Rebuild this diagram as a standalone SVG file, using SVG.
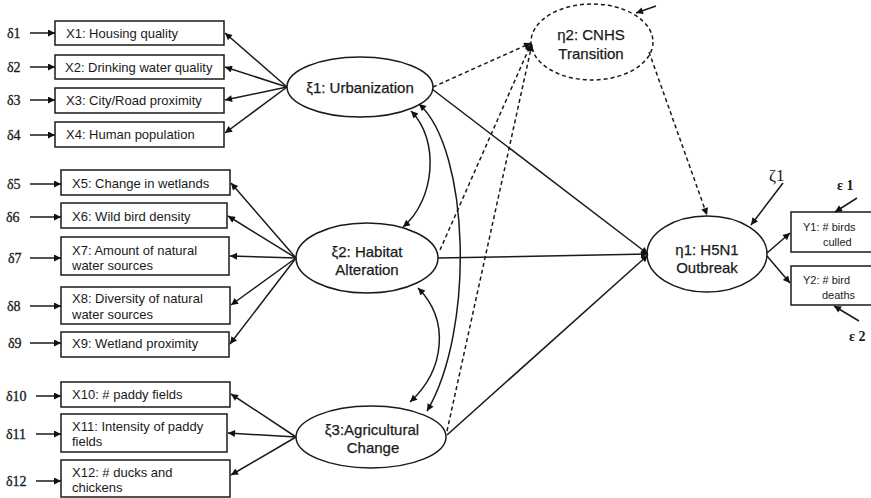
<svg xmlns="http://www.w3.org/2000/svg" width="871" height="498" viewBox="0 0 871 498">
  <defs>
    <marker id="ah" viewBox="0 0 10 10" refX="10" refY="5" markerUnits="userSpaceOnUse" markerWidth="9" markerHeight="7" orient="auto-start-reverse">
      <path d="M0,0 L10,5 L0,10 z" fill="#111"/>
    </marker>
    <style>
      .box { fill: #fff; stroke: #1a1a1a; stroke-width: 1.5; }
      .lat { fill: #fff; stroke: #1a1a1a; stroke-width: 1.5; }
      .dlat { fill: #fff; stroke: #1a1a1a; stroke-width: 1.5; stroke-dasharray: 4 3; }
      .t { font-family: "Liberation Sans", Arial, sans-serif; font-size: 13px; fill: #1a1a1a; }
      .ts { font-family: "Liberation Sans", Arial, sans-serif; font-size: 11px; fill: #1a1a1a; }
      .tl { font-family: "Liberation Sans", Arial, sans-serif; font-size: 15px; fill: #1a1a1a; text-anchor: middle; stroke: #1a1a1a; stroke-width: 0.25; }
      .err { font-family: "Liberation Serif", "Times New Roman", serif; font-size: 14px; fill: #1a1a1a; stroke: #1a1a1a; stroke-width: 0.3; }
      .zeta { font-family: "Liberation Serif", "Times New Roman", serif; font-size: 17px; fill: #1a1a1a; }
      .errb { font-family: "Liberation Serif", "Times New Roman", serif; font-size: 14px; font-weight: bold; fill: #1a1a1a; }
      .ln { fill: none; stroke: #1a1a1a; stroke-width: 1.5; marker-end: url(#ah); }
      .dash { fill: none; stroke: #1a1a1a; stroke-width: 1.5; stroke-dasharray: 4 3; marker-end: url(#ah); }
      .cov { fill: none; stroke: #1a1a1a; stroke-width: 1.5; marker-start: url(#ah); marker-end: url(#ah); }
    </style>
  </defs>

  <!-- indicator boxes -->
  <g id="X1"><rect class="box" x="55" y="21" width="169" height="24"/><text class="t" x="66" y="38">X1: Housing quality</text></g>
  <g id="X2"><rect class="box" x="55" y="55" width="169" height="24"/><text class="t" x="65" y="72">X2: Drinking water quality</text></g>
  <g id="X3"><rect class="box" x="55" y="88" width="169" height="25"/><text class="t" x="66" y="105">X3: City/Road proximity</text></g>
  <g id="X4"><rect class="box" x="55" y="122" width="169" height="25"/><text class="t" x="66" y="139">X4: Human population</text></g>

  <g id="X5"><rect class="box" x="61" y="170" width="169" height="25"/><text class="t" x="72" y="188">X5: Change in wetlands</text></g>
  <g id="X6"><rect class="box" x="61" y="203" width="166" height="25"/><text class="t" x="72" y="221">X6: Wild bird density</text></g>
  <g id="X7"><rect class="box" x="61" y="237" width="168" height="38"/><text class="t" x="72" y="255">X7: Amount of natural</text><text class="t" x="72" y="270">water sources</text></g>
  <g id="X8"><rect class="box" x="61" y="287" width="169" height="37"/><text class="t" x="72" y="303">X8: Diversity of natural</text><text class="t" x="72" y="319">water sources</text></g>
  <g id="X9"><rect class="box" x="61" y="332" width="168" height="25"/><text class="t" x="72" y="348">X9: Wetland proximity</text></g>

  <g id="X10"><rect class="box" x="61" y="382" width="169" height="25"/><text class="t" x="72" y="399">X10: # paddy fields</text></g>
  <g id="X11"><rect class="box" x="61" y="414" width="166" height="38"/><text class="t" x="72" y="431">X11: Intensity of paddy</text><text class="t" x="72" y="446">fields</text></g>
  <g id="X12"><rect class="box" x="61" y="460" width="169" height="37"/><text class="t" x="72" y="477">X12: # ducks and</text><text class="t" x="72" y="492">chickens</text></g>

  <g id="Y1"><rect class="box" x="791" y="212" width="100" height="40"/><text class="ts" x="803" y="231">Y1: # birds</text><text class="ts" x="823" y="246">culled</text></g>
  <g id="Y2"><rect class="box" x="791" y="266" width="100" height="39"/><text class="ts" x="803" y="284">Y2: # bird</text><text class="ts" x="822" y="299">deaths</text></g>

  <!-- latent variables -->
  <g id="xi1"><ellipse class="lat" cx="360" cy="87" rx="73" ry="30"/><text class="tl" x="360" y="93">ξ1: Urbanization</text></g>
  <g id="xi2"><ellipse class="lat" cx="367" cy="258" rx="71" ry="35"/><text class="tl" x="367" y="257">ξ2: Habitat</text><text class="tl" x="367" y="275">Alteration</text></g>
  <g id="xi3"><ellipse class="lat" cx="371" cy="437" rx="75" ry="31"/><text class="tl" x="372" y="435">ξ3:Agricultural</text><text class="tl" x="373" y="453">Change</text></g>
  <g id="eta1"><ellipse class="lat" cx="707" cy="254" rx="60" ry="38"/><text class="tl" x="707" y="255">η1:  H5N1</text><text class="tl" x="707" y="273">Outbreak</text></g>
  <g id="eta2"><ellipse class="dlat" cx="592" cy="42" rx="61" ry="38"/><text class="tl" x="591" y="40">η2: CNHS</text><text class="tl" x="591" y="59">Transition</text></g>

  <!-- error terms -->
  <g id="errors">
    <text class="err" x="7" y="38">δ1</text>
    <text class="err" x="7" y="72">δ2</text>
    <text class="err" x="7" y="105">δ3</text>
    <text class="err" x="7" y="140">δ4</text>
    <text class="err" x="7" y="189">δ5</text>
    <text class="err" x="6" y="222">δ6</text>
    <text class="err" x="8" y="263">δ7</text>
    <text class="err" x="7" y="311">δ8</text>
    <text class="err" x="8" y="348">δ9</text>
    <text class="err" x="6" y="401">δ10</text>
    <text class="err" x="6" y="439">δ11</text>
    <text class="err" x="6" y="486">δ12</text>
    <text class="zeta" x="769" y="181">ζ1</text>
    <text class="errb" x="837" y="190">ε 1</text>
    <text class="errb" x="849" y="341">ε 2</text>
  </g>

  <!-- connectors -->
  <g id="connectors">
    <!-- measurement errors into indicators -->
    <line class="ln" x1="30" y1="33" x2="55" y2="33"/>
    <line class="ln" x1="30" y1="67" x2="55" y2="67"/>
    <line class="ln" x1="30" y1="100" x2="55" y2="100"/>
    <line class="ln" x1="30" y1="135" x2="55" y2="135"/>
    <line class="ln" x1="30" y1="184" x2="61" y2="184"/>
    <line class="ln" x1="30" y1="217" x2="61" y2="217"/>
    <line class="ln" x1="30" y1="258" x2="61" y2="258"/>
    <line class="ln" x1="30" y1="306" x2="61" y2="306"/>
    <line class="ln" x1="30" y1="343" x2="61" y2="343"/>
    <line class="ln" x1="36" y1="396" x2="61" y2="396"/>
    <line class="ln" x1="36" y1="434" x2="61" y2="434"/>
    <line class="ln" x1="36" y1="481" x2="61" y2="481"/>

    <!-- loadings: ξ1 -->
    <line class="ln" x1="287" y1="87" x2="225" y2="33"/>
    <line class="ln" x1="287" y1="87" x2="225" y2="67"/>
    <line class="ln" x1="287" y1="87" x2="225" y2="100"/>
    <line class="ln" x1="287" y1="87" x2="225" y2="133"/>
    <!-- loadings: ξ2 -->
    <line class="ln" x1="296" y1="258" x2="231" y2="183"/>
    <line class="ln" x1="296" y1="258" x2="228" y2="216"/>
    <line class="ln" x1="296" y1="258" x2="230" y2="256"/>
    <line class="ln" x1="296" y1="258" x2="231" y2="305"/>
    <line class="ln" x1="296" y1="258" x2="230" y2="344"/>
    <!-- loadings: ξ3 -->
    <line class="ln" x1="296" y1="437" x2="231" y2="394"/>
    <line class="ln" x1="296" y1="437" x2="228" y2="433"/>
    <line class="ln" x1="296" y1="437" x2="231" y2="475"/>

    <!-- covariances among exogenous factors -->
    <path class="cov" d="M411,111 C440,140 435,200 403,227"/>
    <path class="cov" d="M418,288 C450,320 445,370 410,402"/>
    <path class="cov" d="M419,104 C470,150 475,330 427,411"/>

    <!-- structural paths to η2 (dashed) -->
    <line class="dash" x1="433" y1="87" x2="531" y2="43"/>
    <line class="dash" x1="440" y1="250" x2="531" y2="44"/>
    <line class="dash" x1="447" y1="431" x2="532" y2="44"/>
    <line class="dash" x1="649" y1="52" x2="707" y2="215"/>
    <line class="ln" x1="656" y1="6" x2="636" y2="13"/>

    <!-- structural paths to η1 -->
    <line class="ln" x1="432" y1="89" x2="648" y2="254"/>
    <line class="ln" x1="438" y1="258" x2="648" y2="254"/>
    <line class="ln" x1="447" y1="435" x2="648" y2="255"/>
    <line class="ln" x1="783" y1="183" x2="751" y2="225"/>

    <!-- η1 indicators -->
    <line class="ln" x1="767" y1="253" x2="790" y2="233"/>
    <line class="ln" x1="767" y1="256" x2="790" y2="283"/>
    <line class="ln" x1="857" y1="198" x2="835" y2="212"/>
    <line class="ln" x1="859" y1="321" x2="834" y2="306"/>
  </g>
</svg>
